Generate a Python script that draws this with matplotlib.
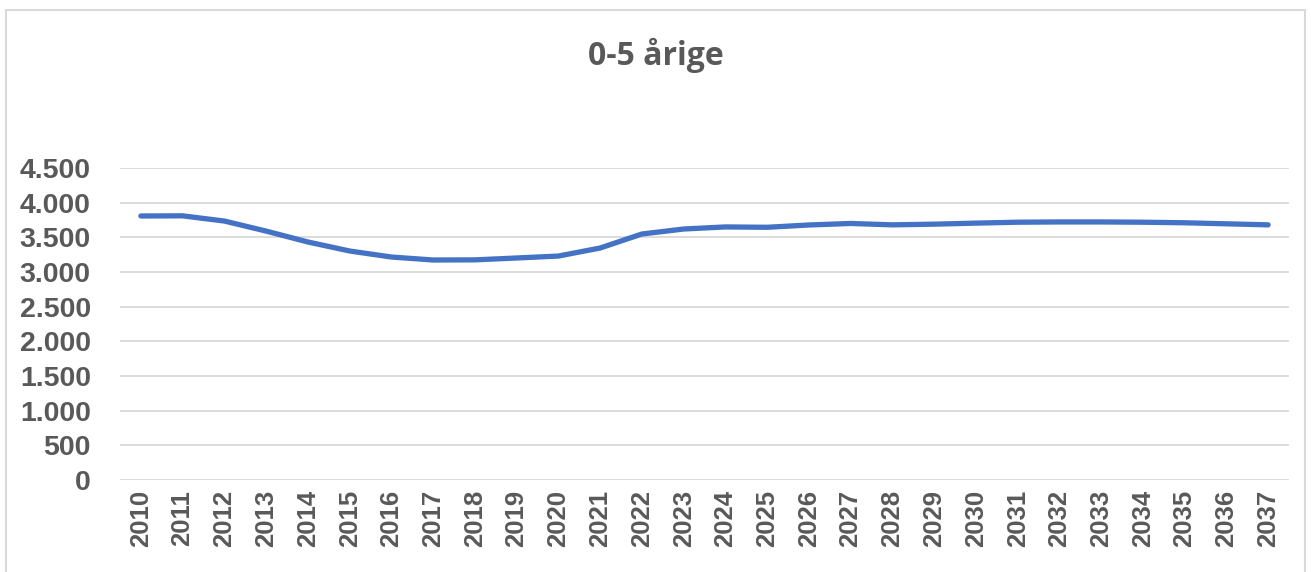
import matplotlib
matplotlib.use("Agg")
import matplotlib.pyplot as plt
from matplotlib.patches import Rectangle
import numpy as np

# data
years = list(range(2010, 2038))
children_0_5 = [3808, 3810, 3735, 3590, 3433, 3303, 3216, 3173, 3175, 3202,
                3230, 3346, 3548, 3620, 3650, 3645, 3678, 3700, 3680, 3690,
                3705, 3718, 3722, 3722, 3718, 3710, 3695, 3680]
y_ticks = [0, 500, 1000, 1500, 2000, 2500, 3000, 3500, 4000, 4500]
y_labels = ["0", "500", "1.000", "1.500", "2.000", "2.500", "3.000", "3.500", "4.000", "4.500"]

txt_color = "#595959"
W, H = 1311, 572

fig = plt.figure(figsize=(W / 100, H / 100), dpi=100)
ax = fig.add_axes([120 / W, 1 - 480 / H, (1289 - 120) / W, (480 - 168) / H])

x = np.arange(len(years))
ax.plot(x, children_0_5, color="#4472C4", linewidth=3.8, solid_capstyle="round", zorder=3)

ax.set_xlim(-0.5, len(years) - 0.5)
ax.set_ylim(0, 4500)
ax.set_yticks(y_ticks)
ax.set_yticklabels(y_labels)
ax.set_xticks(x)
ax.set_xticklabels([str(y) for y in years], rotation=90)

ax.grid(axis="y", color="#d9d9d9", linewidth=1.3)
ax.set_axisbelow(True)
for s in ax.spines.values():
    s.set_visible(False)
ax.tick_params(axis="both", length=0, colors=txt_color)
ax.tick_params(axis="y", pad=21)
ax.tick_params(axis="x", pad=7)
for lab in ax.get_yticklabels():
    lab.set_fontfamily("Liberation Sans")
    lab.set_fontweight("bold")
    lab.set_fontsize(20.5)
for lab in ax.get_xticklabels():
    lab.set_fontfamily("Liberation Sans")
    lab.set_fontweight("bold")
    lab.set_fontsize(18.5)

fig.text(0.5, 1 - 55 / H, "0-5 årige", ha="center", va="center",
         fontsize=23, fontweight="bold", family="Open Sans", color=txt_color)

# chart border
fig.patches.append(Rectangle((6 / W, -0.1), (1305 - 6) / W, 1.1 - 10 / H,
                             transform=fig.transFigure, fill=False,
                             edgecolor="#d9d9d9", linewidth=1.5))

fig.savefig("out.png", dpi=100)
